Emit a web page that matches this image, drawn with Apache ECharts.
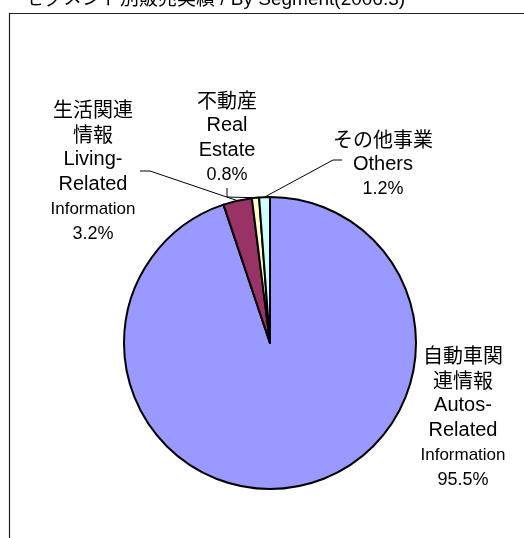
<!DOCTYPE html>
<html><head><meta charset="utf-8">
<script src="https://cdn.jsdelivr.net/npm/echarts@6/dist/echarts.min.js"></script>
<style>html,body{margin:0;padding:0;background:#fff}#c{width:524px;height:538px}</style>
</head><body><div id="c"></div>
<script>
const titleText = 'セグメント別販売実績 / By Segment(2006.3)';
const segmentsJa = ['自動車関\n連情報', '生活関連\n情報', '不動産', 'その他事業'];
const segmentsEn = ['Autos-\nRelated', 'Living-\nRelated', 'Real\nEstate', 'Others'];
const segmentsEnSmall = ['Information', 'Information', '', ''];
const shares = [95.5, 3.2, 0.8, 1.2];
const colors = ['#9999FF', '#993366', '#FFFFCC', '#CCFFFF'];

const FONT = '"Liberation Sans", Arial, "Noto Sans CJK JP", sans-serif';
const labelCenters = [[463, 418], [93, 172], [227, 138], [383, 164]];

const data = shares.map((v, i) => ({
  name: segmentsEn[i].replace('\n', ' '),
  value: v,
  itemStyle: { color: colors[i] },
  labelLine: { show: i !== 0 }
}));

const chart = echarts.init(document.getElementById('c'), null, { renderer: 'canvas' });
chart.setOption({
  animation: false,
  backgroundColor: '#fff',
  graphic: [
    { type: 'rect', shape: { x: 9.5, y: 13.5, width: 700, height: 700 }, style: { fill: 'none', stroke: '#222', lineWidth: 1.2 }, z: -1 },
    { type: 'text', x: 25, y: -10, style: { text: titleText, font: '19px ' + FONT, fill: '#000' } }
  ],
  series: [{
    type: 'pie',
    center: [270, 343],
    radius: 146,
    startAngle: 90,
    clockwise: true,
    avoidLabelOverlap: false,
    itemStyle: { borderColor: '#000', borderWidth: 2 },
    emphasis: { disabled: true },
    data: data,
    label: {
      show: true,
      position: 'outside',
      formatter: function (p) {
        const i = p.dataIndex;
        let s = '{ja|' + segmentsJa[i].split('\n').join('}\n{ja|') + '}';
        s += '\n{en|' + segmentsEn[i].split('\n').join('}\n{en|') + '}';
        if (segmentsEnSmall[i]) s += '\n{sm|' + segmentsEnSmall[i] + '}';
        s += '\n{pc|' + shares[i].toFixed(1) + '%}';
        return s;
      },
      align: 'center',
      color: '#000',
      rich: {
        ja: { fontSize: 20, lineHeight: 25, fontFamily: '"Noto Sans CJK JP", sans-serif', color: '#000', align: 'center' },
        en: { fontSize: 20, lineHeight: 25, fontFamily: FONT, color: '#000', align: 'center' },
        sm: { fontSize: 17, lineHeight: 25, fontFamily: FONT, color: '#000', align: 'center' },
        pc: { fontSize: 18, lineHeight: 25, fontFamily: FONT, color: '#000', align: 'center' }
      }
    },
    labelLine: { show: true, lineStyle: { color: '#000', width: 1 } },
    labelLayout: function (params) {
      const i = params.dataIndex;
      const c = labelCenters[i];
      const res = { x: c[0], y: c[1], align: 'center', verticalAlign: 'middle' };
      const start = params.labelLinePoints ? params.labelLinePoints[0] : null;
      if (start) {
        if (i === 1) res.labelLinePoints = [start, [150, 171], [140, 171]];
        if (i === 2) res.labelLinePoints = [start, [227, 197], [227, 188]];
        if (i === 3) res.labelLinePoints = [start, [333, 160], [342, 160]];
      }
      return res;
    }
  }]
});
</script></body></html>
